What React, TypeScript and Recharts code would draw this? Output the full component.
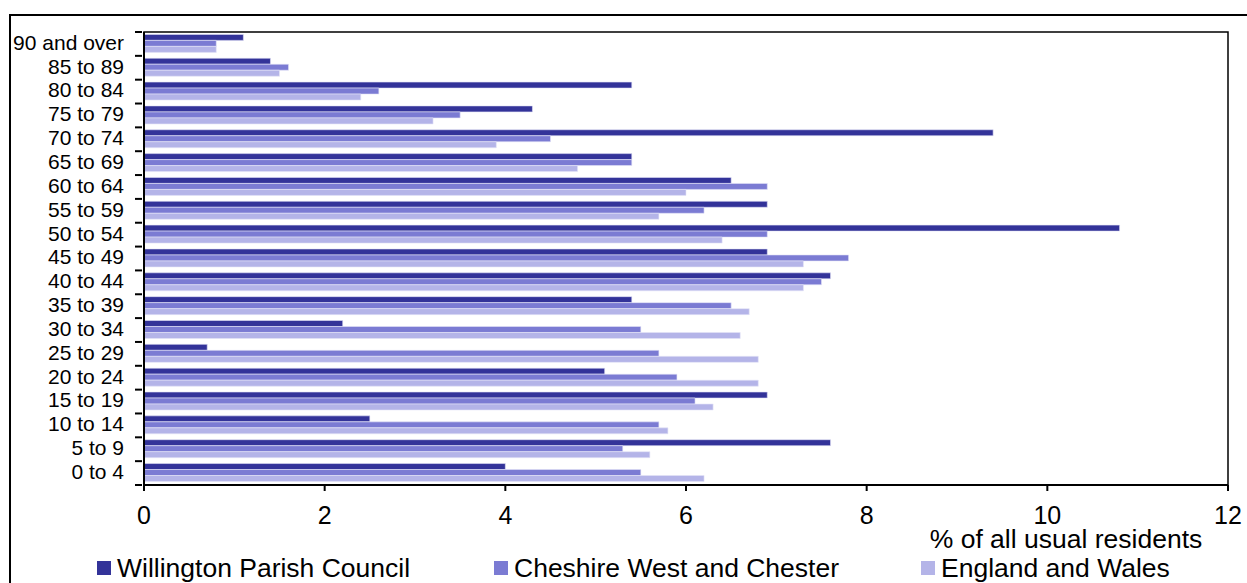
import { Bar, BarChart, ReferenceArea, XAxis, YAxis } from "recharts";

const ageBands = [
  "90 and over",
  "85 to 89",
  "80 to 84",
  "75 to 79",
  "70 to 74",
  "65 to 69",
  "60 to 64",
  "55 to 59",
  "50 to 54",
  "45 to 49",
  "40 to 44",
  "35 to 39",
  "30 to 34",
  "25 to 29",
  "20 to 24",
  "15 to 19",
  "10 to 14",
  "5 to 9",
  "0 to 4"
];

const willington = [1.1, 1.4, 5.4, 4.3, 9.4, 5.4, 6.5, 6.9, 10.8, 6.9, 7.6, 5.4, 2.2, 0.7, 5.1, 6.9, 2.5, 7.6, 4.0];
const cheshire = [0.8, 1.6, 2.6, 3.5, 4.5, 5.4, 6.9, 6.2, 6.9, 7.8, 7.5, 6.5, 5.5, 5.7, 5.9, 6.1, 5.7, 5.3, 5.5];
const englandWales = [0.8, 1.5, 2.4, 3.2, 3.9, 4.8, 6.0, 5.7, 6.4, 7.3, 7.3, 6.7, 6.6, 6.8, 6.8, 6.3, 5.8, 5.6, 6.2];

const xTicks = [0, 2, 4, 6, 8, 10, 12];

const series = [
  { key: "willington", name: "Willington Parish Council", color: "#333399" },
  { key: "cheshire", name: "Cheshire West and Chester", color: "#7b7bd3" },
  { key: "englandWales", name: "England and Wales", color: "#b4b4e8" }
];

const data = ageBands.map((band, i) => ({
  band,
  willington: willington[i],
  cheshire: cheshire[i],
  englandWales: englandWales[i]
}));

const W = 1247;
const H = 583;
const PLOT_TOP = 32;
const PLOT_BOTTOM = 485;
const BAND = (PLOT_BOTTOM - PLOT_TOP) / ageBands.length;
const FONT = "Liberation Sans, Arial, sans-serif";

// category labels sit mid-band, tick marks sit on the band edges (Excel style)
function AgeTick(props: any) {
  const { x, y, payload, index } = props;
  const axisX = x + 6;
  return (
    <g>
      <line x1={axisX - 7} x2={axisX} y1={y - BAND / 2} y2={y - BAND / 2} stroke="#000" strokeWidth={2} />
      {index === ageBands.length - 1 && (
        <line x1={axisX - 7} x2={axisX} y1={y + BAND / 2} y2={y + BAND / 2} stroke="#000" strokeWidth={2} />
      )}
      <text x={axisX - 18} y={y} dy="0.28em" textAnchor="end" fontSize={21} fontFamily={FONT} fill="#000">
        {payload.value}
      </text>
    </g>
  );
}

export default function App() {
  return (
    <div
      style={{
        position: "fixed",
        left: 0,
        top: 0,
        width: W,
        height: H,
        overflow: "hidden",
        background: "#fff",
        fontFamily: FONT
      }}
    >
      <div
        style={{
          position: "absolute",
          left: 9,
          top: 14,
          width: 1400,
          height: 800,
          border: "2px solid #000"
        }}
      />
      <div style={{ position: "absolute", left: 0, top: 0 }}>
        <BarChart
          width={W}
          height={H}
          data={data}
          layout="vertical"
          margin={{ top: PLOT_TOP, right: W - 1228, bottom: 0, left: 0 }}
          barCategoryGap="10%"
          barGap={0}
        >
          <XAxis
            type="number"
            domain={[0, 12]}
            ticks={xTicks}
            height={H - PLOT_BOTTOM}
            axisLine={{ stroke: "#000", strokeWidth: 2 }}
            tickLine={{ stroke: "#000", strokeWidth: 2 }}
            tickSize={6}
            tickMargin={15}
            tick={{ fill: "#000", fontSize: 25, fontFamily: FONT }}
            label={{
              content: () => (
                <text x={1066} y={548} textAnchor="middle" fontSize={26.5} fontFamily={FONT} fill="#000">
                  % of all usual residents
                </text>
              )
            }}
          />
          <YAxis
            type="category"
            dataKey="band"
            width={144}
            axisLine={{ stroke: "#000", strokeWidth: 2 }}
            tickLine={false}
            tick={<AgeTick />}
            interval={0}
          />
          <ReferenceArea x1={0} x2={12} fill="none" stroke="#000" strokeWidth={1.5} ifOverflow="visible" />
          {series.map((s) => (
            <Bar
              key={s.key}
              dataKey={s.key}
              name={s.name}
              fill={s.color}
              stroke="#e4e4f6"
              strokeWidth={0.6}
              isAnimationActive={false}
            />
          ))}
        </BarChart>
      </div>
      {series.map((s, i) => {
        const left = [97, 494, 921][i];
        return (
          <div
            key={s.key}
            style={{
              position: "absolute",
              left,
              top: 554,
              display: "flex",
              alignItems: "center",
              fontSize: 26.5,
              lineHeight: "28px",
              color: "#000",
              whiteSpace: "nowrap"
            }}
          >
            <span
              style={{
                display: "inline-block",
                width: 14,
                height: 14,
                background: s.color,
                marginRight: 6
              }}
            />
            {s.name}
          </div>
        );
      })}
    </div>
  );
}
